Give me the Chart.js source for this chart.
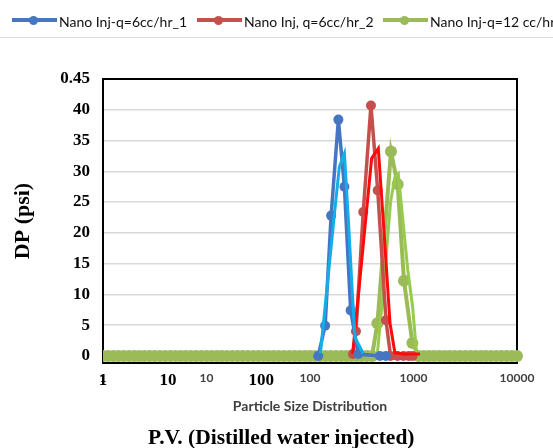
<!DOCTYPE html>
<html>
<head>
<meta charset="utf-8">
<script src="https://cdn.jsdelivr.net/npm/chart.js@4.4.1/dist/chart.umd.min.js"></script>
<style>
  html, body { margin: 0; padding: 0; background: #fff; }
  #wrap { position: relative; width: 553px; height: 448px; overflow: hidden; }
  #chart { position: absolute; left: 0; top: 0; }
  #legend { position: absolute; left: 0; top: 0; width: 553px; height: 37px; border-bottom: 1px solid #dadada;
            white-space: nowrap; overflow: hidden; font: 14px Lato, sans-serif; color: #111; }
  .item { position: absolute; top: 12px; height: 18px; display: flex; align-items: center; }
  .swatch { position: relative; width: 45px; height: 18px; margin-right: 2px; flex: none; }
  .swatch .ln { position: absolute; left: 0; right: 0; top: 6px; height: 4px; }
  .swatch .dot { position: absolute; left: 17px; top: 3.5px; width: 9px; height: 9px; border-radius: 50%; }
  #pvTitle { position: absolute; left: 148px; top: 424px; font: bold 21.5px "Liberation Serif", serif; line-height: 26px; color: #000; white-space: nowrap; }
</style>
</head>
<body>
<div id="wrap">
  <canvas id="chart" width="553" height="448"></canvas>
  <div id="legend"></div>
  <div id="pvTitle">P.V. (Distilled water injected)</div>
</div>
<script>
// axis ticks
const sizeTicks = [1, 10, 100, 1000, 10000];
const sizeTickLabels = ['1', '10', '100', '1000', '10000'];
const dpMin = -1.15;
const dpMax = 45;
const dpTicks = [0, 5, 10, 15, 20, 25, 30, 35, 40, 45];
const dpTickLabels = ['0', '5', '10', '15', '20', '25', '30', '35', '40', '0.45'];
const pvTickLabels = ['1', '10', '100'];
const pvTickAt = [0, 0.157, 0.382]; // spots of the old P.V. labels along the frame

// Nano Inj-q=6cc/hr_1 (markers) and its plain overlay
const blueSize = [120, 140, 160, 188, 215, 247, 293, 474, 540];
const blueDp   = [0, 4.9, 22.8, 38.4, 27.5, 7.4, 0.3, 0, 0];
const cyanSize = [126, 150, 172, 192, 215, 235, 255, 272, 327];
const cyanDp   = [0.4, 13, 23, 30.7, 32.9, 22, 11, 3, 0.4];

// Nano Inj, q=6cc/hr_2
const redSize = [260, 278, 327, 388, 451, 542, 600, 700, 800, 900, 980];
const redDp   = [0.3, 4, 23.4, 40.7, 26.9, 5.8, 0, 0, 0, 0, 0];
const brightRedSize = [258, 300, 340, 394, 457, 520, 593, 661, 800, 1157];
const brightRedDp   = [0.3, 11.5, 21, 32.1, 33.7, 20, 5.3, 0.5, 0.3, 0.3];

// Nano Inj-q=12 cc/hr
const greenSize = [1, 1.12, 1.26, 1.41, 1.58, 1.78, 2, 2.24, 2.51, 2.82, 3.16, 3.55, 3.98, 4.47, 5.01, 5.62, 6.31, 7.08, 7.94, 8.91,
  10, 11.2, 12.6, 14.1, 15.8, 17.8, 20, 22.4, 25.1, 28.2, 31.6, 35.5, 39.8, 44.7, 50.1, 56.2, 63.1, 70.8, 79.4, 89.1,
  100, 112, 126, 141, 158, 178, 200, 224, 251, 282, 316, 355, 398, 448, 606, 703, 809, 975,
  1120, 1260, 1410, 1580, 1780, 2000, 2240, 2510, 2820, 3160, 3550, 3980, 4470, 5010, 5620, 6310, 7080, 7940, 8910, 10000];
const greenDp = [0, 0, 0, 0, 0, 0, 0, 0, 0, 0, 0, 0, 0, 0, 0, 0, 0, 0, 0, 0,
  0, 0, 0, 0, 0, 0, 0, 0, 0, 0, 0, 0, 0, 0, 0, 0, 0, 0, 0, 0,
  0, 0, 0, 0, 0, 0, 0, 0, 0, 0, 0, 0, 0, 5.3, 33.2, 27.9, 12.2, 2.1,
  0, 0, 0, 0, 0, 0, 0, 0, 0, 0, 0, 0, 0, 0, 0, 0, 0, 0, 0, 0];
const limeSize = [447, 520, 600, 660, 713, 790, 880, 980, 1070];
const limeDp   = [0.3, 12, 25, 29, 29.6, 22, 14, 8, 0.5];

const pts = (xs, ys) => xs.map((x, i) => ({x: x, y: ys[i]}));

const frame = {
  id: 'frame',
  beforeDatasetsDraw(chart) {
    const {ctx, chartArea: a} = chart;
    ctx.save();
    ctx.strokeStyle = '#000';
    ctx.lineWidth = 2;
    ctx.strokeRect(a.left, a.top, a.right - a.left, a.bottom - a.top);
    ctx.restore();
  }
};

const chart = new Chart(document.getElementById('chart'), {
  type: 'line',
  data: {
    datasets: [
      {
        label: 'overlay_1', data: pts(cyanSize, cyanDp), order: 1, xAxisID: 'x', yAxisID: 'y',
        borderColor: '#12AEEA', borderWidth: 3, pointRadius: 0
      },
      {
        label: 'Nano Inj-q=6cc/hr_1', legend: true, data: pts(blueSize, blueDp), order: 2, xAxisID: 'x', yAxisID: 'y',
        borderColor: '#4676C2', backgroundColor: '#4676C2', borderWidth: 3.5,
        pointRadius: 5, pointBackgroundColor: '#4676C2', pointBorderWidth: 0
      },
      {
        label: 'overlay_2', data: pts(brightRedSize, brightRedDp), order: 3, xAxisID: 'x', yAxisID: 'y',
        borderColor: '#FF0A0A', borderWidth: 3, pointRadius: 0
      },
      {
        label: 'Nano Inj, q=6cc/hr_2', legend: true, data: pts(redSize, redDp), order: 4, xAxisID: 'x', yAxisID: 'y',
        borderColor: '#C4504D', backgroundColor: '#C4504D', borderWidth: 3.5,
        pointRadius: 5, pointBackgroundColor: '#C4504D', pointBorderWidth: 0
      },
      {
        label: 'overlay_3', data: pts(limeSize, limeDp), order: 5, xAxisID: 'x', yAxisID: 'y',
        borderColor: '#96CB4E', borderWidth: 3, pointRadius: 0
      },
      {
        label: 'Nano Inj-q=12 cc/hr', legend: true, data: pts(greenSize, greenDp), order: 6, xAxisID: 'x', yAxisID: 'y',
        borderColor: '#9BBB59', backgroundColor: '#9BBB59', borderWidth: 4,
        segment: { borderWidth: c => (c.p0.parsed.y === 0 && c.p1.parsed.y === 0 ? 8 : 4) },
        pointRadius: 6, pointBackgroundColor: '#9BBB59', pointBorderWidth: 0,
        clip: {left: 0, right: 6, top: 0, bottom: 0}
      }
    ]
  },
  options: {
    responsive: false,
    animation: false,
    layout: { padding: { top: 79, right: 36, left: 0, bottom: 0 } },
    plugins: { legend: { display: false }, tooltip: { enabled: false } },
    elements: { line: { tension: 0 } },
    scales: {
      x: {
        type: 'logarithmic', position: 'bottom', weight: 1, min: 1, max: 10000,
        grid: { display: false, drawTicks: false }, border: { display: false },
        afterFit: s => { s.height = 85; },
        afterBuildTicks: s => { s.ticks = sizeTicks.map(v => ({value: v})); },
        ticks: {
          autoSkip: false, maxRotation: 0, padding: 8, color: '#404040',
          font: { family: 'Lato, sans-serif', size: 12, weight: 'bold' },
          callback: (v, i) => sizeTickLabels[i]
        },
        title: {
          display: true, text: 'Particle Size Distribution', color: '#404040',
          font: { family: 'Lato, sans-serif', size: 14, weight: 'bold' },
          padding: { top: 0, bottom: 33 }
        }
      },
      pv: {
        type: 'linear', axis: 'x', position: { y: dpMin }, min: 0, max: 1, display: true,
        grid: { display: false, drawTicks: false }, border: { display: false },
        afterFit: s => { s.height = 0; },
        afterBuildTicks: s => { s.ticks = pvTickAt.map(v => ({value: v})); },
        ticks: {
          autoSkip: false, maxRotation: 0, padding: 7, color: '#000',
          font: { family: '"Liberation Serif", serif', size: 17, weight: 'bold' },
          callback: (v, i) => pvTickLabels[i]
        }
      },
      y: {
        type: 'linear', position: 'left', min: dpMin, max: dpMax,
        afterFit: s => { s.width = 103; },
        afterBuildTicks: s => { s.ticks = dpTicks.map(v => ({value: v})); },
        grid: { color: '#d9d9d9', lineWidth: 1.5, drawTicks: false }, border: { display: false },
        ticks: {
          autoSkip: false, padding: 13, color: '#000',
          font: { family: '"Liberation Serif", serif', size: 17, weight: 'bold' },
          callback: (v, i) => dpTickLabels[i]
        },
        title: {
          display: true, text: 'DP (psi)', color: '#000',
          font: { family: '"Liberation Serif", serif', size: 22, weight: 'bold' },
          padding: { top: 10, bottom: 0 }
        }
      }
    }
  },
  plugins: [frame]
});

// legend row across the top, cut off at the right edge like the source
const legendLeft = [12, 197, 383];
const legendBox = document.getElementById('legend');
chart.data.datasets.filter(d => d.legend).forEach((d, i) => {
  const item = document.createElement('div');
  item.className = 'item';
  item.style.left = legendLeft[i] + 'px';
  item.innerHTML = '<span class="swatch"><span class="ln"></span><span class="dot"></span></span><span></span>';
  item.querySelector('.ln').style.background = d.borderColor;
  item.querySelector('.dot').style.background = d.borderColor;
  item.lastChild.textContent = d.label;
  legendBox.appendChild(item);
});
</script>
</body>
</html>
